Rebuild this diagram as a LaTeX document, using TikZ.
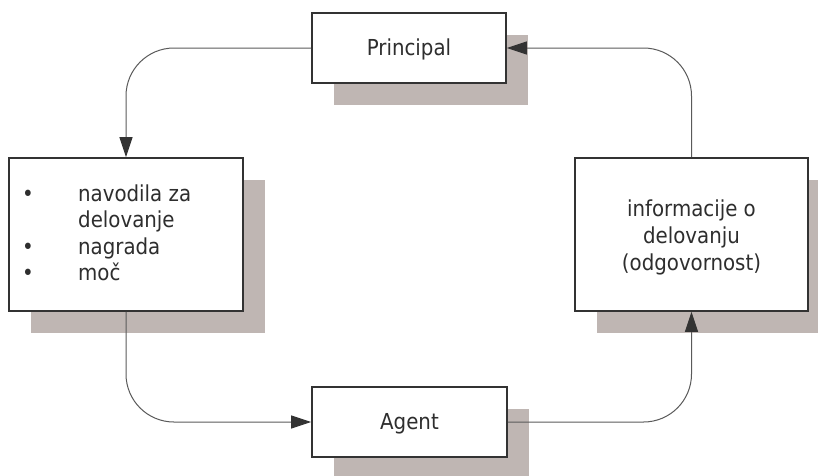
\documentclass[tikz,border=0pt]{standalone}
\usepackage{fontspec}
\setmainfont{DejaVu Sans Condensed}
\usetikzlibrary{arrows.meta,shadows}
\definecolor{shadowc}{HTML}{BFB6B3}
\definecolor{edgec}{HTML}{333333}
\definecolor{linec}{HTML}{5A5A5A}
\definecolor{textc}{HTML}{2E2E2E}
\tikzset{
  box/.style={draw=edgec, line width=1.6pt, fill=white, inner sep=0pt,
    drop shadow={shadow xshift=22pt, shadow yshift=-22pt, fill=shadowc, opacity=1, draw=none},
    text=textc, font=\fontsize{22}{27}\selectfont},
  lbl/.style={inner sep=0pt, text=textc, font=\fontsize{22}{27}\selectfont},
  conn/.style={draw=linec, line width=1pt, rounded corners=48pt,
    -{Triangle[length=20pt,width=13pt,color=edgec,fill=edgec]}}
}
\begin{document}
\begin{tikzpicture}[x=1pt,y=-1pt]
\useasboundingbox (0,0) rectangle (818,475);
\node[box, minimum width=194pt, minimum height=70pt, text height=17pt, text depth=3pt] (P) at (409,48) {Principal};
\node[box, minimum width=234pt, minimum height=153pt] (L) at (126,234.5) {};
\node[box, minimum width=233pt, minimum height=153pt] (R) at (691.5,234.5) {};
\node[box, minimum width=195pt, minimum height=70pt, text height=17pt, text depth=3pt] (A) at (409.5,422) {Agent};
\node[lbl, anchor=north west] (Ltext) at (22,182.2) {\fontsize{22}{26.6}\selectfont\begin{tabular}{@{}p{56pt}@{}l@{}}
\textbullet & navodila za\\
 & delovanje\\
\textbullet & nagrada\\
\textbullet & moč
\end{tabular}};
\node[lbl, anchor=north] (Rtext) at (691.5,197.8) {\fontsize{22}{27}\selectfont\begin{tabular}{@{}c@{}}
informacije o\\
delovanju\\
(odgovornost)
\end{tabular}};
\draw[conn] (P.west) -| (L.north);
\draw[conn] (L.south) |- (A.west);
\draw[conn] (A.east) -| (R.south);
\draw[conn] (R.north) |- (P.east);
\end{tikzpicture}
\end{document}
